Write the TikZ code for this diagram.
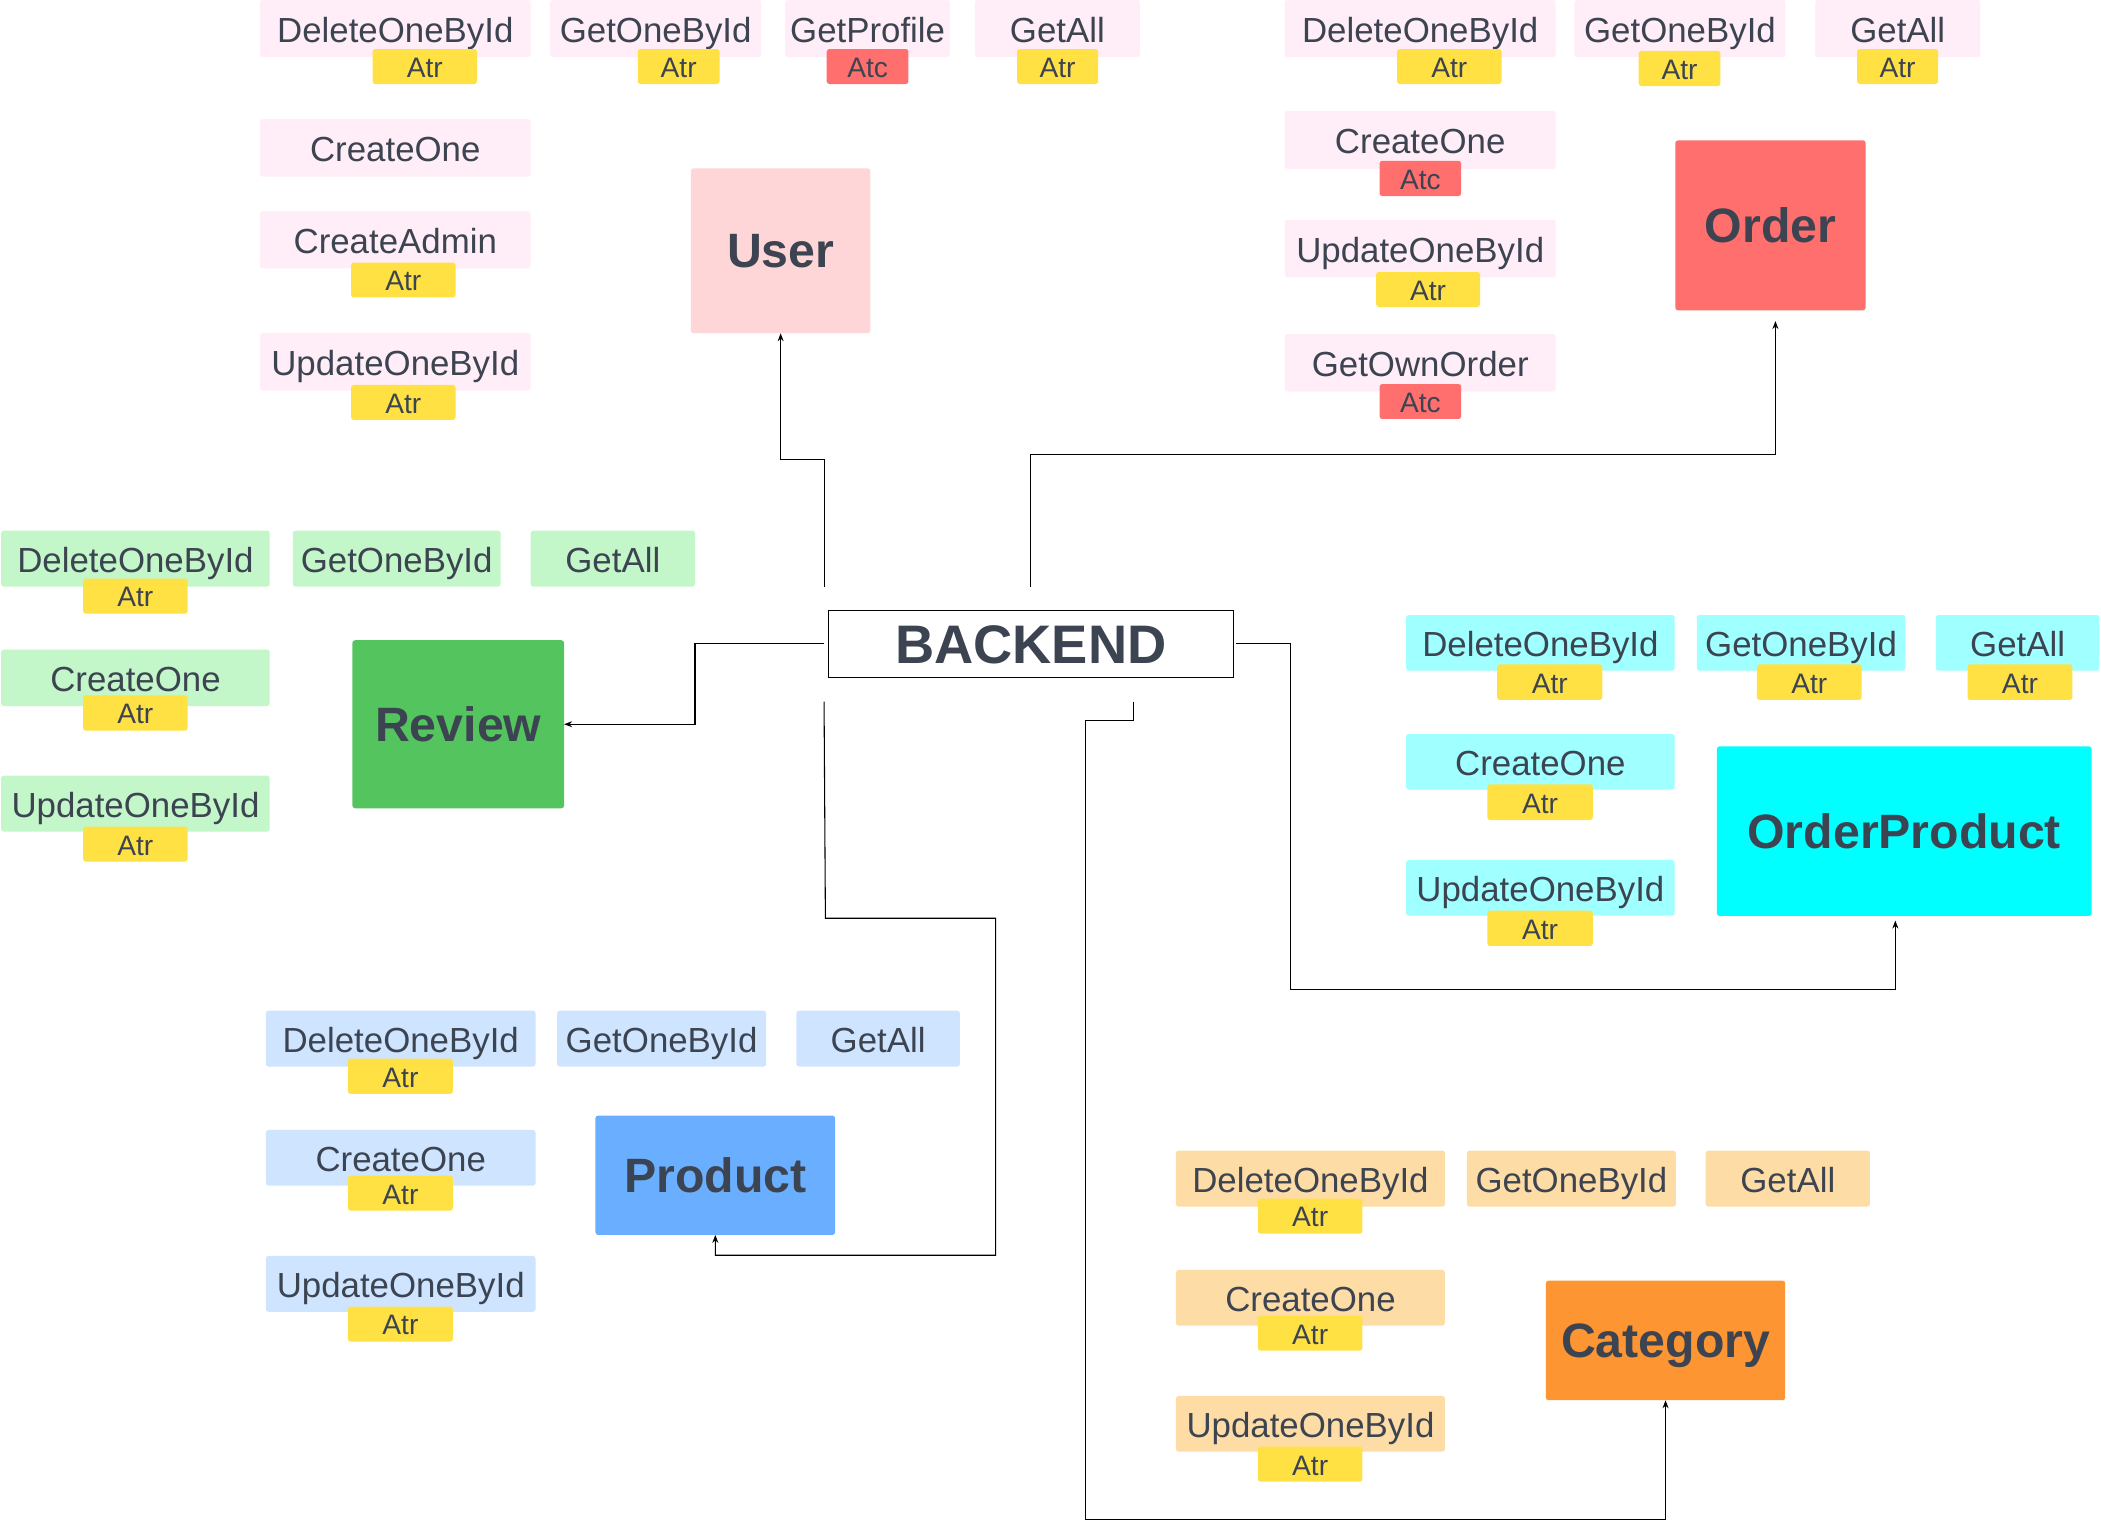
\documentclass[tikz,border=0pt]{standalone}
\usepackage{fontspec}
\setmainfont{Liberation Sans}
\usetikzlibrary{arrows.meta}
\definecolor{txt}{HTML}{3D4451}
\definecolor{pinkL}{HTML}{FFEEF8}
\definecolor{greenL}{HTML}{C3F6C8}
\definecolor{cyanL}{HTML}{A0FFFF}
\definecolor{blueL}{HTML}{CFE4FF}
\definecolor{orangeL}{HTML}{FEDCA6}
\definecolor{yel}{HTML}{FFE143}
\definecolor{redc}{HTML}{FF6F6E}
\definecolor{userc}{HTML}{FFD6D7}
\definecolor{reviewc}{HTML}{54C45E}
\definecolor{productc}{HTML}{6AAFFF}
\definecolor{categoryc}{HTML}{FD9533}
\definecolor{opc}{HTML}{00FFFF}
\newcommand\rbox[7]{\node[#2, minimum width={(#5)-(#3)}, minimum height={(#6)-(#4)}] (#1) at ({((#3)+(#5))/2},{((#4)+(#6))/2}) {#7};}
\tikzset{
  base/.style={inner sep=0pt, outer sep=0pt, rounded corners=2pt, text=txt, align=center},
  meth/.style={base, font=\fontsize{26}{30}\selectfont, text height=20.5pt, text depth=0pt},
  badge/.style={base, font=\fontsize{21}{25}\selectfont, text height=16.2pt, text depth=0pt},
  atr/.style={badge, fill=yel},
  atc/.style={badge, fill=redc},
  ent/.style={base, font=\bfseries\fontsize{36}{40}\selectfont, text height=25.5pt, text depth=0pt},
  mpink/.style={meth, fill=pinkL},
  mgreen/.style={meth, fill=greenL},
  mcyan/.style={meth, fill=cyanL},
  mblue/.style={meth, fill=blueL},
  morange/.style={meth, fill=orangeL},
  conn/.style={draw=black, line width=0.8pt},
  arr/.style={conn, -{Stealth[length=6pt,width=4.5pt]}},
}
\begin{document}
\begin{tikzpicture}[x=1pt,y=-1pt]
\useasboundingbox (0,0) rectangle (1568,1143);
% ---------- User group
\rbox{u1}{mpink}{194}{0}{396}{42.6}{DeleteOneById}
\rbox{u1a}{atr}{278}{36.6}{356}{62.7}{Atr}
\rbox{u2}{mpink}{410.6}{0}{568}{42.6}{GetOneById}
\rbox{u2a}{atr}{476}{36.6}{537}{62.7}{Atr}
\rbox{u3}{mpink}{586}{0}{709}{42.6}{GetProfile}
\rbox{u3a}{atc}{617}{36.6}{678}{62.7}{Atc}
\rbox{u4}{mpink}{727.6}{0}{850.7}{42.6}{GetAll}
\rbox{u4a}{atr}{759}{36.6}{819.6}{62.7}{Atr}
\rbox{u5}{mpink}{194}{88.8}{396}{131.8}{CreateOne}
\rbox{u6}{mpink}{194}{157.5}{396}{200.3}{CreateAdmin}
\rbox{u6a}{atr}{262}{196}{340}{222}{Atr}
\rbox{u7}{mpink}{194}{248.5}{396}{291.6}{UpdateOneById}
\rbox{u7a}{atr}{262}{287.3}{340}{313.4}{Atr}
\rbox{User}{ent, fill=userc}{515.6}{125.6}{649.6}{248.7}{User}
% ---------- Order group
\rbox{o1}{mpink}{958.8}{0}{1161}{42.7}{DeleteOneById}
\rbox{o1a}{atr}{1042.6}{36.6}{1120.6}{62.7}{Atr}
\rbox{o2}{mpink}{1175}{0}{1332.5}{42.7}{GetOneById}
\rbox{o2a}{atr}{1223}{38}{1284}{64.2}{Atr}
\rbox{o3}{mpink}{1354.6}{0}{1478}{42.7}{GetAll}
\rbox{o3a}{atr}{1386}{36.6}{1446.4}{62.7}{Atr}
\rbox{o4}{mpink}{958.8}{82.8}{1161}{126}{CreateOne}
\rbox{o4a}{atc}{1029.6}{120}{1090.5}{146.3}{Atc}
\rbox{o5}{mpink}{958.8}{164}{1161}{207}{UpdateOneById}
\rbox{o5a}{atr}{1027}{203}{1104.6}{229}{Atr}
\rbox{o6}{mpink}{958.8}{249.3}{1161}{292.3}{GetOwnOrder}
\rbox{o6a}{atc}{1029.6}{286.6}{1090.5}{312.7}{Atc}
\rbox{Order}{ent, fill=redc}{1250.3}{104.7}{1392.3}{231.6}{Order}
% ---------- Review group
\rbox{r1}{mgreen}{0.9}{396}{201.3}{437.8}{DeleteOneById}
\rbox{r1a}{atr}{62}{431.8}{140}{458}{Atr}
\rbox{r2}{mgreen}{218.5}{396}{373.6}{437.8}{GetOneById}
\rbox{r3}{mgreen}{396}{396}{518.7}{437.8}{GetAll}
\rbox{r4}{mgreen}{0.9}{484.8}{201.3}{526.9}{CreateOne}
\rbox{r4a}{atr}{62}{519}{140}{545.3}{Atr}
\rbox{r5}{mgreen}{0.9}{578.9}{201.3}{620.7}{UpdateOneById}
\rbox{r5a}{atr}{62}{617}{140}{643}{Atr}
\rbox{Review}{ent, fill=reviewc}{263}{477.8}{421}{603.2}{Review}
% ---------- OrderProduct group
\rbox{p1}{mcyan}{1049.4}{459}{1249.8}{500.5}{DeleteOneById}
\rbox{p1a}{atr}{1117.3}{495.8}{1195.9}{522.4}{Atr}
\rbox{p2}{mcyan}{1266.3}{459}{1422}{500.5}{GetOneById}
\rbox{p2a}{atr}{1311.2}{495.8}{1389.4}{522.4}{Atr}
\rbox{p3}{mcyan}{1444.7}{459}{1566.8}{500.5}{GetAll}
\rbox{p3a}{atr}{1468.4}{495.8}{1546.6}{522.4}{Atr}
\rbox{p4}{mcyan}{1049.4}{547.8}{1249.8}{589.3}{CreateOne}
\rbox{p4a}{atr}{1110.1}{585.3}{1188.7}{612}{Atr}
\rbox{p5}{mcyan}{1049.4}{641.8}{1249.8}{683.4}{UpdateOneById}
\rbox{p5a}{atr}{1110.1}{679.6}{1188.7}{706}{Atr}
\rbox{OrderProduct}{ent, fill=opc}{1281.3}{557}{1561}{683.6}{OrderProduct}
% ---------- Product group
\rbox{b1}{mblue}{198.4}{754.3}{399.7}{796}{DeleteOneById}
\rbox{b1a}{atr}{259.7}{790}{338}{816.4}{Atr}
\rbox{b2}{mblue}{415.7}{754.3}{571.8}{796}{GetOneById}
\rbox{b3}{mblue}{594.3}{754.3}{716.4}{796}{GetAll}
\rbox{b4}{mblue}{198.4}{843.3}{399.7}{884.8}{CreateOne}
\rbox{b4a}{atr}{259.7}{877.4}{338}{903.5}{Atr}
\rbox{b5}{mblue}{198.4}{937.3}{399.7}{979}{UpdateOneById}
\rbox{b5a}{atr}{259.7}{975.1}{338}{1001.3}{Atr}
\rbox{Product}{ent, fill=productc}{444.4}{832.6}{623.3}{921.6}{Product}
% ---------- Category group
\rbox{c1}{morange}{877.6}{858.7}{1078.4}{900.5}{DeleteOneById}
\rbox{c1a}{atr}{938.8}{894.5}{1016.8}{920.7}{Atr}
\rbox{c2}{morange}{1094.8}{858.7}{1250.7}{900.5}{GetOneById}
\rbox{c3}{morange}{1273}{858.7}{1395.5}{900.5}{GetAll}
\rbox{c4}{morange}{877.6}{947.8}{1078.4}{989.3}{CreateOne}
\rbox{c4a}{atr}{938.8}{981.9}{1016.8}{1008}{Atr}
\rbox{c5}{morange}{877.6}{1041.8}{1078.4}{1083.4}{UpdateOneById}
\rbox{c5a}{atr}{938.8}{1079.6}{1016.8}{1105.8}{Atr}
\rbox{Category}{ent, fill=categoryc}{1153.7}{955.7}{1332.3}{1045}{Category}
% ---------- BACKEND
\node[draw=black, line width=1pt, fill=white, inner sep=0pt, outer sep=0pt,
      minimum width=302.2pt, minimum height=50pt, text=txt,
      font=\bfseries\fontsize{40.5}{46}\selectfont, text height=28.6pt, text depth=0pt]
      (backend) at (769.3,480.5) {BACKEND};
% ---------- connector ends near BACKEND
\coordinate (bU) at (615,437.8);
\coordinate (bO) at (769,437.8);
\coordinate (bR) at (615,480);
\coordinate (bP) at (615,523.6);
\coordinate (bOP) at (922.4,480);
\coordinate (bC) at (845.8,523.6);
\coordinate (tO) at (1325,239.6);
\coordinate (tOP) at (1414.5,687);
% ---------- connectors
\draw[arr] (bU) -- (615,343) -- (582.6,343) -- (User.south);
\draw[arr] (bO) -- (769,339) -- (1325,339) -- (tO);
\draw[arr] (bR) -- (518.7,480) -- (518.7,540.5) -- (Review.east);
\draw[arr] (bP) -- (616,685.3) -- (743,685.3) -- (743,936.8) -- (533.85,936.8) -- (Product.south);
\draw[arr] (bOP) -- (963,480) -- (963,738.8) -- (1414.5,738.8) -- (tOP);
\draw[arr] (bC) -- (845.8,537.8) -- (810.2,537.8) -- (810.2,1134.3) -- (1243,1134.3) -- (Category.south);
\end{tikzpicture}
\end{document}
